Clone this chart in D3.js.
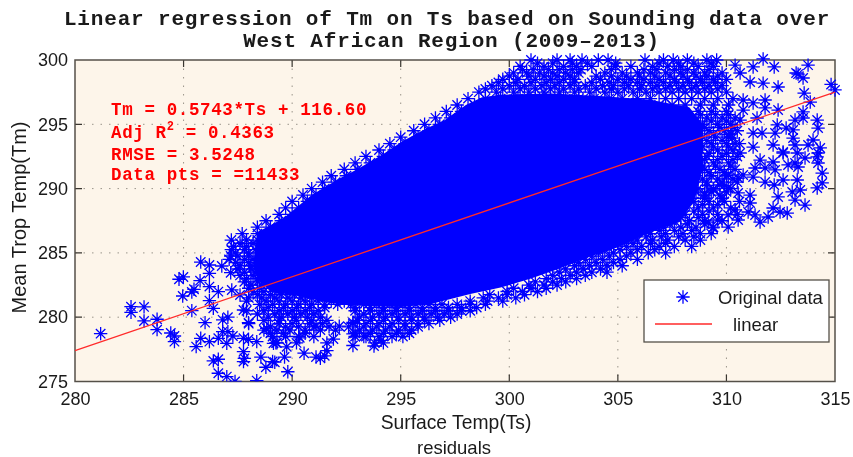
<!DOCTYPE html>
<html>
<head>
<meta charset="utf-8">
<script src="https://cdn.jsdelivr.net/npm/d3@7"></script>
<style>
body { margin: 0; background: #fff; }
svg { filter: blur(0.35px); }
text { fill: #1a1a1a; }
.tick text { font-family: "Liberation Sans", sans-serif; font-size: 18px; fill: #1a1a1a; }
</style>
</head>
<body>
<div class="scatter"></div>
<script>
let xTicks = [280, 285, 290, 295, 300, 305, 310, 315];
let yTicks = [275, 280, 285, 290, 295, 300];
let fitTs = [280, 315];
let fitTm = [277.40, 297.50];
let titleLines = ["Linear regression of Tm on Ts based on Sounding data over", "West African Region (2009\u20132013)"];
let titleCenters = [447, 451.5];

// outline of the part where the markers overlap into solid blue
let coreTs = [288.2, 288.4, 289.6, 290.9, 292.2, 293, 294.2, 295.1, 296.2, 297, 298, 298.75, 299.6, 301.9, 304.2, 306.5, 308.3, 308.9, 308.9, 308.5, 307.85, 306.5, 305.1, 303.7, 302.35, 301, 299.6, 298.2, 296.35, 295, 293.1, 291.75, 290.4, 289, 288.4];
let coreTm = [284, 286.6, 287.7, 289.5, 290.8, 291.5, 292.7, 293.7, 294.7, 295.3, 296.5, 297.1, 297.3, 297.4, 297.2, 296.9, 296.3, 295, 291.5, 289, 287.4, 286.6, 285.5, 284.7, 283.8, 283, 282.3, 281.8, 281, 280.8, 280.9, 281.1, 281.6, 282, 283];

// markers around the solid part, one list of Ts per Tm level
let tmRows = [300, 299.5, 299, 298.5, 298, 297.5, 297, 296.5, 296, 295.5, 295, 294.5, 294, 293.5, 293, 292.5, 292, 291.5, 291, 290.5, 290, 289.5, 289, 288.5, 288, 287.5, 287, 286.5, 286, 285.5, 285, 284.5, 284, 283.5, 283, 282.5, 282, 281.5, 281, 280.5, 280, 279.5, 279, 278.5, 278];
let tsRows = [
    [301.0, 302.2, 302.8, 303.35, 304.1, 304.55, 306.25, 307.1, 307.55, 308.2, 309.1, 309.55],
    [300.5, 301.6, 302.5, 303.1, 303.8, 304.9, 305.6, 306.6, 307.3, 307.9, 308.7, 309.4],
    [300.2, 300.8, 301.4, 302.0, 302.6, 303.2, 304.4, 305.2, 305.9, 306.5, 307.2, 307.9, 308.5, 309.0, 309.8],
    [299.7, 300.4, 301.2, 301.9, 302.5, 303.0, 304.2, 305.0, 305.6, 306.2, 306.9, 307.6, 308.2, 308.8, 309.4, 310.0],
    [299.2, 300, 300.7, 301.5, 302.1, 302.8, 303.5, 304.3, 304.8, 305.5, 306.1, 306.8, 307.4, 308, 308.6, 309.2, 309.8],
    [298.6, 299.4, 300.2, 300.9, 301.6, 302.3, 303, 303.7, 304.4, 305, 305.7, 306.3, 306.9, 307.5, 308.1, 308.7, 309.3, 310],
    [298.1, 298.9, 299.6, 300.4, 301.2, 301.9, 302.6, 303.2, 303.9, 304.6, 305.2, 305.9, 306.5, 307.2, 307.8, 308.4, 309, 309.6, 310.3],
    [297.6, 298.4, 299.1, 304.8, 305.5, 306.2, 306.9, 307.5, 308.1, 308.8, 309.4, 310.1],
    [297.1, 297.8, 307.2, 308, 308.7, 309.3, 310],
    [296.6, 297.3, 308.4, 309.1, 309.8, 310.4],
    [296.1, 296.8, 308.9, 309.6, 310.2],
    [295.6, 296.3, 309.2, 309.9, 310.5],
    [295, 295.8, 308.9, 309.5, 310.1],
    [294.5, 295.2, 309.3, 310, 310.6],
    [294, 294.7, 308.8, 309.6, 310.3],
    [293.4, 294.2, 309.1, 309.8, 310.5],
    [292.9, 293.6, 308.7, 309.4, 310.1],
    [292.4, 293, 309, 309.7, 310.4],
    [291.8, 292.5, 308.6, 309.3, 310],
    [291.4, 292, 309.1, 309.8, 310.5],
    [290.9, 291.5, 308.7, 309.4, 310.2],
    [290.5, 291.1, 309, 309.7],
    [290, 290.7, 308.5, 309.2, 309.9, 310.6],
    [289.7, 290.3, 307.9, 308.7, 309.4, 310.2],
    [289.4, 290, 307.4, 308.1, 308.9, 309.6, 310.5],
    [288.8, 289.5, 306.8, 307.5, 308.3, 309, 309.8],
    [288.4, 289, 306.4, 307.1, 307.9, 308.6, 309.4],
    [287.7, 288.4, 305.8, 306.5, 307.2, 308, 308.8, 309.3],
    [287.2, 287.9, 288.4, 305.2, 305.9, 306.6, 307.3, 308.1, 308.8],
    [287.3, 287.9, 304.7, 305.4, 306.1, 306.9, 307.6, 308.4],
    [287.4, 288, 304.1, 304.8, 305.6, 306.4, 307.2],
    [287.1, 287.8, 288.2, 303.5, 304.3, 305.1, 305.9],
    [287.6, 288.1, 303, 303.7, 304.5, 305.2],
    [287.8, 288.3, 302.3, 303.1, 303.8, 304.5],
    [287.9, 288.4, 301.7, 302.4, 303.1],
    [288.1, 288.6, 300.9, 301.6, 302.2],
    [288.2, 288.7, 289.3, 289.9, 299.9, 300.6, 301.3],
    [288, 288.6, 289.2, 289.8, 290.4, 290.9, 298.8, 299.5, 300.3],
    [288.5, 289.1, 289.7, 290.3, 290.9, 291.5, 292.1, 292.7, 293.3, 293.9, 294.5, 295.1, 295.7, 296.3, 296.9, 297.6, 298.2, 298.9],
    [287.9, 288.7, 289.4, 290, 290.6, 291.2, 292.9, 293.6, 294.2, 294.8, 295.4, 296, 296.6, 297.2, 297.8, 298.2],
    [288.9, 289.5, 290.1, 290.7, 291.3, 293.1, 293.7, 294.3, 294.9, 295.5, 296.1, 296.7, 297.3],
    [288, 289.4, 290, 290.8, 291.4, 292.8, 293.4, 294, 294.6, 295.2, 295.8, 296.3],
    [288.7, 289.3, 289.9, 290.6, 291.3, 292, 293.1, 293.7, 294.3, 294.9, 295.5],
    [289.1, 289.7, 290.3, 291, 292.9, 293.4, 294, 294.6, 295.1],
    [289.3, 290.2, 293.8, 294.2]
];

let tmRowsMid = [299.75, 299.25, 298.75, 298.25, 297.75, 295.75, 295.25, 294.75, 294.25, 293.75, 293.25, 292.75, 292.25, 291.75, 291.25, 290.75, 290.25, 289.75, 289.25, 288.75, 288.25, 287.75, 287.25, 286.75, 286.25, 285.75, 285.25, 284.75, 284.25, 283.75, 283.25, 282.75, 282.25, 281.75, 281.25, 280.75, 280.25, 279.75, 279.25, 278.75];
let tsRowsMid = [
    [301.3, 302, 302.9, 303.6, 304.9, 306.9, 307.8, 308.5, 309.3],
    [300.6, 301.1, 301.8, 302.3, 302.9, 303.3, 304.7, 306.2, 306.8, 307.6, 308.2, 309.2],
    [300, 300.9, 301.6, 302.2, 302.8, 304, 304.7, 305.4, 306, 306.7, 307.4, 308, 308.6, 309.1, 309.6],
    [299.5, 300.3, 301, 301.7, 302.3, 303, 303.8, 304.6, 305.3, 305.9, 306.5, 307.1, 307.7, 308.3, 308.9, 309.5],
    [298.9, 299.7, 300.5, 301.2, 301.9, 302.5, 303.2, 304, 304.7, 305.3, 306, 306.6, 307.2, 307.8, 308.4, 309, 309.6],
    [308.8, 309.5, 310.1],
    [308.6, 309.3, 310],
    [309, 309.7, 310.3],
    [308.7, 309.4, 310.2],
    [309.1, 309.8],
    [308.9, 309.4, 310.1],
    [309.2, 310],
    [309, 309.6, 310.3],
    [308.9, 309.5, 310.2],
    [309.2, 309.9],
    [308.9, 309.6, 310.3],
    [309.1, 309.9],
    [308.6, 309.3, 310],
    [308.4, 309, 309.8],
    [308.1, 308.9, 309.6],
    [307.7, 308.5, 309.2],
    [307.2, 307.9, 308.7],
    [306.6, 307.4, 308.2, 309],
    [306.1, 306.9, 307.6, 308.4],
    [305.5, 306.3, 307, 307.8, 308.5],
    [287.6, 288.2, 305, 305.7, 306.5, 307.2],
    [287.2, 287.8, 288.3, 304.4, 305.1, 305.9, 306.7],
    [287.5, 288, 303.8, 304.6, 305.4],
    [287.4, 288, 303.2, 304, 304.8],
    [287.5, 288.1, 302.6, 303.4, 304.2],
    [287.6, 288.2, 288.6, 302, 302.8, 303.5],
    [287.8, 288.4, 288.9, 301.2, 302, 302.6],
    [288, 288.5, 289.1, 289.7, 300.2, 301, 301.7],
    [288.4, 289, 289.5, 290.1, 290.6, 299.1, 299.9, 300.7],
    [287.9, 288.8, 289.4, 290, 290.6, 291.2, 291.8, 292.4, 298.2, 299, 299.7],
    [288.9, 289.6, 290.2, 290.8, 291.5, 292.9, 293.6, 294.2, 294.8, 295.4, 296, 296.6, 297.2, 297.8, 298.5],
    [288.4, 289.2, 289.8, 290.4, 291, 293.3, 294, 294.6, 295.2, 295.8, 296.4, 297, 297.6],
    [288.7, 289.4, 290.2, 290.9, 291.6, 293, 293.6, 294.2, 294.9, 295.5, 296.1, 296.8],
    [289, 289.7, 290.3, 291, 291.7, 292.6, 293.3, 293.9, 294.5, 295.2, 295.8],
    [289, 289.6, 290.6, 292.9, 293.6, 294.2, 294.8, 295.4]
];

// single markers that can be told apart in the picture, [Ts, Tm]
let lowPoints = [
    [281.18, 278.72], [282.58, 280.82], [282.58, 280.38], [283.18, 280.8], [283.18, 279.71], [283.78, 279.84], [283.78, 279.03],
    [284.41, 278.77], [284.58, 278.54], [284.58, 278.1], [284.79, 282.95], [284.99, 283.13], [284.96, 281.65], [285.38, 281.96],
    [285.48, 282.17], [285.76, 282.84], [285.38, 280.51], [285.79, 284.29], [286.19, 284.06], [286.19, 283.41], [286.19, 282.38],
    [286.19, 281.29], [286.6, 281.99], [286.37, 280.69], [285.99, 279.58], [286.76, 283.98], [287.17, 284.76], [287.17, 283.46],
    [287.22, 282.12], [287.6, 281.73], [287.76, 280.56], [286.8, 279.79], [287.04, 280], [286.8, 278.88], [287.04, 278.88],
    [287.27, 278.54], [286.6, 278.36], [286.99, 277.97], [286.19, 278.1], [285.79, 278.36], [285.58, 277.71], [287.76, 278.36],
    [287.99, 278.28], [288.37, 278.1], [287.76, 277.32], [287.76, 276.55], [287.8, 276.8], [286.37, 276.6], [286.6, 276.73],
    [286.6, 275.64], [286.99, 275.38], [287.37, 275], [288.37, 275.07], [288.56, 276.9], [288.79, 276.11], [289.1, 276.55],
    [287.99, 279.58], [289.14, 277.97], [288.83, 279.14], [289.8, 275.76], [290.55, 277.2], [291.1, 276.9], [291.3, 276.8],
    [291.5, 277], [291.6, 277.4], [292.8, 277.8], [293.77, 277.76], [294.1, 278.2], [292.17, 279.3], [289.65, 276.9],
    [289.2, 276.5], [289.75, 277.7], [289.25, 278], [290.35, 278.4], [291.1, 279.3], [291.9, 278.3], [291.6, 278],
    [292.8, 278.7], [293.3, 278.5], [292.8, 279.6]
];
let rightPoints = [
    [310.77, 296.89], [310.77, 296.11], [310.63, 295.33], [311.23, 299.46], [311.69, 300.08], [312.2, 299.46], [310.4, 299.6],
    [310.63, 298.99], [311.09, 298.29], [311.69, 298.2], [312.38, 297.9], [313.21, 298.99], [313.53, 298.6], [313.3, 298.9],
    [313.76, 299.6], [313.58, 297.43], [314.82, 298.1], [315, 297.67], [313.86, 296.73], [311.78, 296.89], [311.78, 296.27],
    [312.38, 296.11], [311.41, 295.49], [311.23, 296.66], [313.53, 295.96], [313.53, 295.49], [313.16, 295.33], [314.18, 295.33],
    [314.22, 294.71], [312.34, 294.95], [312.24, 294.32], [312.75, 294.71], [313.07, 294.56], [313.07, 293.93], [311.23, 294.32],
    [311.64, 294.32], [311.23, 293.23], [310.26, 293.93], [310.08, 294.2], [310.4, 293.5], [312.15, 293.39], [312.61, 292.85],
    [313.16, 293.39], [313.26, 292.77], [313.99, 293.78], [313.76, 293.39], [314.32, 293.16], [314.18, 292.46], [312.15, 292.07],
    [313.16, 291.99], [310.63, 292.77], [311.55, 292.22], [312.61, 292.77], [314.22, 292.77], [313.62, 292.38], [312.84, 291.84],
    [313.3, 291.68], [311.78, 291.6], [314.22, 291.99], [314.41, 291.21], [314.41, 290.44], [314.18, 290.05], [312.24, 291.45],
    [312.61, 290.67], [312.2, 290.28], [311.78, 290.51], [313.26, 290.67], [313.4, 289.89], [313.03, 289.74], [313.16, 289.11],
    [313.62, 288.72], [312.38, 289.35], [312.15, 288.49], [312.47, 288.18], [312.8, 288.1], [311.92, 287.79], [311.55, 287.4],
    [311.32, 287.95], [311, 288.18], [311.09, 288.88], [310.54, 287.56], [310.08, 287.01], [310.08, 287.95], [310.4, 288.34],
    [309.38, 286.94], [309.6, 287.56], [309.16, 287.4], [311.23, 290.9], [311.32, 291.6], [310.77, 291.06], [310.54, 290.82],
    [310.08, 291.06], [310.08, 290.05], [310.54, 289.66], [311.09, 289.5], [309.4, 289.89], [309.7, 290.28], [309, 289.66]
];

let svgWidth = 853;
let svgHeight = 457;
let margin = {
    top: 60,
    left: 75,
    right: 18,
    bottom: 75.5
};
let width = svgWidth - margin.left - margin.right;
let height = svgHeight - margin.top - margin.bottom;
let boxColor = "#555049";
let blue = "#0000ff";
let red = "#ff2a2a";

let svg = d3
    .select(".scatter")
    .append("svg")
    .attr("width", svgWidth)
    .attr("height", svgHeight)
    .style("display", "block");
let chartgroup = svg.append("g")
    .attr("transform", `translate(${margin.left}, ${margin.top})`);

let xScale = d3.scaleLinear().domain([280, 315]).range([0, width]);
let yScale = d3.scaleLinear().domain([275, 300]).range([height, 0]);

chartgroup.append("rect")
    .attr("width", width)
    .attr("height", height)
    .attr("fill", "#fdf5ea");

// dotted grid
chartgroup.selectAll(".gridx")
    .data(xTicks.slice(1, -1))
    .enter()
    .append("line")
    .attr("x1", d => xScale(d))
    .attr("x2", d => xScale(d))
    .attr("y1", 0)
    .attr("y2", height)
    .attr("stroke", "#9a948a")
    .attr("stroke-dasharray", "1.5 7");
chartgroup.selectAll(".gridy")
    .data(yTicks.slice(1, -1))
    .enter()
    .append("line")
    .attr("x1", 0)
    .attr("x2", width)
    .attr("y1", d => yScale(d))
    .attr("y2", d => yScale(d))
    .attr("stroke", "#9a948a")
    .attr("stroke-dasharray", "1.5 7");

let bottomAxis = d3.axisBottom(xScale).tickValues(xTicks).tickSize(0).tickPadding(11);
let leftAxis = d3.axisLeft(yScale).tickValues(yTicks).tickSize(0).tickPadding(7);
chartgroup.append("g")
    .attr("transform", `translate(0, ${height})`)
    .call(bottomAxis)
    .call(g => g.select(".domain").remove());
chartgroup.append("g")
    .call(leftAxis)
    .call(g => g.select(".domain").remove());

// inward ticks on all four sides
let tickLen = 7;
chartgroup.selectAll(".tickx")
    .data(xTicks.slice(1, -1))
    .enter()
    .append("path")
    .attr("d", d => `M${xScale(d)},0V${tickLen}M${xScale(d)},${height}V${height - tickLen}`)
    .attr("stroke", "#3a3630")
    .attr("stroke-width", 1.2);
chartgroup.selectAll(".ticky")
    .data(yTicks.slice(1, -1))
    .enter()
    .append("path")
    .attr("d", d => `M0,${yScale(d)}H${tickLen}M${width},${yScale(d)}H${width - tickLen}`)
    .attr("stroke", "#3a3630")
    .attr("stroke-width", 1.2);

chartgroup.append("rect")
    .attr("width", width)
    .attr("height", height)
    .attr("fill", "none")
    .attr("stroke", boxColor)
    .attr("stroke-width", 1.5);

// markers run over the top and right of the box but stop at the bottom axis
svg.append("clipPath")
    .attr("id", "plotclip")
    .append("rect")
    .attr("x", -10)
    .attr("y", -12)
    .attr("width", width + 20)
    .attr("height", height + 12);
let dataGroup = chartgroup.append("g")
    .attr("clip-path", "url(#plotclip)");

let corePath = d3.line()
    .x((d, i) => xScale(coreTs[i]))
    .y((d, i) => yScale(coreTm[i]));
dataGroup.append("path")
    .attr("d", corePath(coreTs) + "Z")
    .attr("fill", blue);

let points = [];
function addRows(levels, rows) {
    levels.forEach(function(tm, i) {
        rows[i].forEach(function(ts) {
            points.push([ts, tm]);
        });
    });
}
addRows(tmRows, tsRows);
addRows(tmRowsMid, tsRowsMid);
points = points.concat(lowPoints, rightPoints);

function asterisk(r) {
    let p = d3.path();
    for (let k = 0; k < 4; k++) {
        let a = k * Math.PI / 4;
        p.moveTo(-r * Math.cos(a), -r * Math.sin(a));
        p.lineTo(r * Math.cos(a), r * Math.sin(a));
    }
    return p.toString();
}
let markerPath = asterisk(6.7);

dataGroup.selectAll(".pt")
    .data(points)
    .enter()
    .append("path")
    .attr("d", markerPath)
    .attr("transform", d => `translate(${xScale(d[0])}, ${yScale(d[1])})`)
    .attr("fill", "none")
    .attr("stroke", blue)
    .attr("stroke-width", 1.3);

chartgroup.append("line")
    .attr("x1", xScale(fitTs[0]))
    .attr("y1", yScale(fitTm[0]))
    .attr("x2", xScale(fitTs[1]))
    .attr("y2", yScale(fitTm[1]))
    .attr("stroke", red)
    .attr("stroke-width", 1.3);

// legend
svg.append("rect")
    .attr("x", 644)
    .attr("y", 280)
    .attr("width", 185)
    .attr("height", 62)
    .attr("fill", "#fff")
    .attr("stroke", boxColor)
    .attr("stroke-width", 1.3);
svg.append("path")
    .attr("d", markerPath)
    .attr("transform", "translate(683, 297)")
    .attr("fill", "none")
    .attr("stroke", blue)
    .attr("stroke-width", 1.3);
svg.append("line")
    .attr("x1", 655)
    .attr("x2", 712)
    .attr("y1", 324)
    .attr("y2", 324)
    .attr("stroke", red)
    .attr("stroke-width", 1.3);
svg.append("text")
    .attr("x", 718)
    .attr("y", 304)
    .style("font", "18.5px 'Liberation Sans', sans-serif")
    .text("Original data");
svg.append("text")
    .attr("x", 733)
    .attr("y", 331)
    .style("font", "18.5px 'Liberation Sans', sans-serif")
    .text("linear");

// title, axis labels
svg.selectAll(".title")
    .data(titleLines)
    .enter()
    .append("text")
    .attr("x", (d, i) => titleCenters[i])
    .attr("y", (d, i) => 25 + i * 22)
    .attr("text-anchor", "middle")
    .style("font", "bold 21px 'Liberation Mono', monospace")
    .style("letter-spacing", "0.84px")
    .text(d => d);
svg.append("text")
    .attr("x", 456)
    .attr("y", 429)
    .attr("text-anchor", "middle")
    .style("font", "19.3px 'Liberation Sans', sans-serif")
    .text("Surface Temp(Ts)");
svg.append("text")
    .attr("x", 454)
    .attr("y", 454)
    .attr("text-anchor", "middle")
    .style("font", "18.5px 'Liberation Sans', sans-serif")
    .text("residuals");
svg.append("text")
    .attr("transform", "translate(26, 217.5) rotate(-90)")
    .attr("text-anchor", "middle")
    .style("font", "20px 'Liberation Sans', sans-serif")
    .text("Mean Trop Temp(Tm)");

// fit summary
let noteFont = "bold 17.5px 'Liberation Mono', monospace";
let noteGroup = svg.append("g");
function note(y, str) {
    return noteGroup.append("text")
        .attr("x", 111)
        .attr("y", y)
        .style("font", noteFont)
        .style("fill", "#ff0000")
        .style("letter-spacing", "0.63px")
        .text(str);
}
note(115, "Tm = 0.5743*Ts + 116.60");
let r2 = note(138, "Adj R");
r2.append("tspan")
    .attr("dy", -8)
    .style("font-size", "12px")
    .text("2");
r2.append("tspan")
    .attr("dy", 8)
    .text(" = 0.4363");
note(160, "RMSE = 3.5248");
note(180, "Data pts = =11433");
</script>
</body>
</html>
